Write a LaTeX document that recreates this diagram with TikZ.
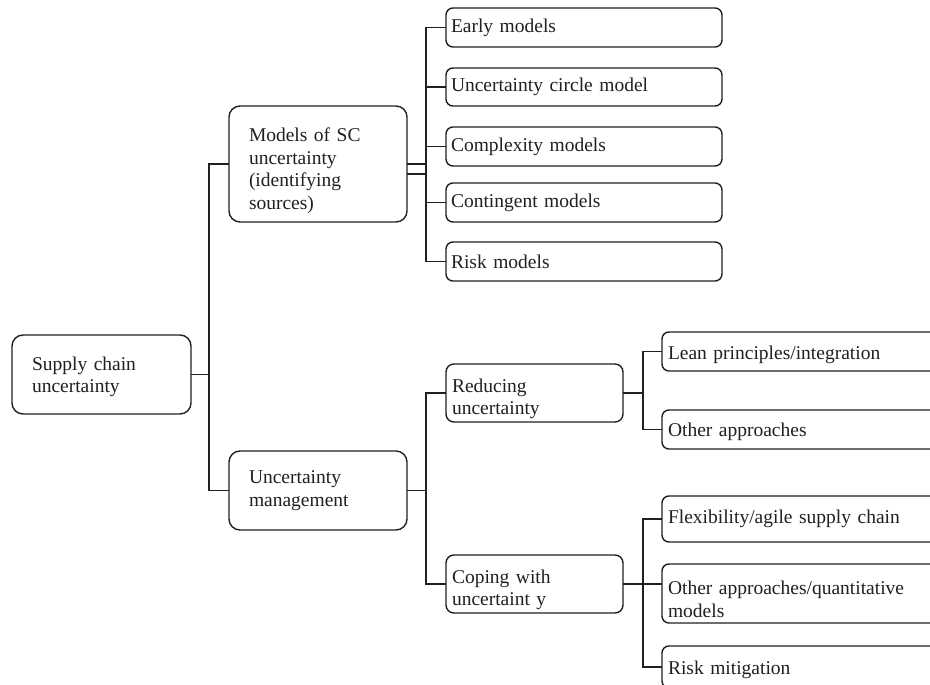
\documentclass[tikz,border=0pt]{standalone}
\usepackage{fontspec}
\setmainfont{Liberation Serif}
\definecolor{ink}{HTML}{231F20}
% invisible strut that makes the first line taller, pushing the text block down
\newcommand{\dropby}[1]{\rule{0pt}{\dimexpr13.3pt+#1*2\relax}}
\begin{document}
\begin{tikzpicture}[x=1pt,y=-1pt,
  every node/.style={font=\fontsize{19.5}{22.7}\selectfont, text=ink},
  box/.style={draw=ink, line width=1.4pt, anchor=north west, align=left,
    inner ysep=0pt, outer sep=0pt},
  bigbox/.style={box, rounded corners=11pt, inner xsep=20pt,
    text width=#1-40pt, minimum width=#1},
  midbox/.style={box, rounded corners=8pt, inner xsep=6pt,
    text width=177pt-12pt, minimum width=177pt},
  leafbox/.style={box, rounded corners=7pt, inner xsep=5pt,
    text width=#1-10pt, minimum width=#1},
  conn/.style={draw=ink, line width=1.4pt}]
\useasboundingbox (0,0) rectangle (930,685);
\fill[white] (0,0) rectangle (930,685);
\clip (0,0) rectangle (930,685);

% root and first level
\node[bigbox=179pt, minimum height=79pt] (sc) at (12,335) {\dropby{2.5pt}Supply chain\\uncertainty};
\node[bigbox=178pt, minimum height=116pt] (models) at (229,106)
  {\dropby{7pt}Models of SC\\uncertainty\\(identifying\\sources)};
\node[bigbox=178pt, minimum height=79pt, inner xsep=19pt] (um) at (229,451)
  {Uncertainty\\management};

% models of uncertainty
\node[leafbox=276pt, minimum height=39pt] (early) at (446,8) {Early models};
\node[leafbox=276pt, minimum height=38pt] (circle) at (446,68) {Uncertainty circle model};
\node[leafbox=276pt, minimum height=39pt] (complex) at (446,127) {Complexity models};
\node[leafbox=276pt, minimum height=39pt] (conting) at (446,183) {Contingent models};
\node[leafbox=276pt, minimum height=39pt] (riskm) at (446,242) {Risk models};

% uncertainty management
\node[midbox, minimum height=58pt] (reduce) at (446,364) {\dropby{6pt}Reducing\\uncertainty};
\node[midbox, minimum height=58pt] (cope) at (446,555) {\dropby{6pt}Coping with\\uncertaint y};

\node[leafbox=290pt, minimum height=39pt, inner xsep=6pt] (lean) at (662,332) {\dropby{3pt}Lean principles/integration};
\node[leafbox=290pt, minimum height=39pt, inner xsep=6pt] (other) at (662,410) {\dropby{2.5pt}Other approaches};
\node[leafbox=290pt, minimum height=46pt, inner xsep=6pt] (flex) at (662,496) {Flexibility/agile supply chain};
\node[leafbox=290pt, minimum height=59pt, inner xsep=6pt] (quant) at (662,564) {\dropby{6pt}Other approaches/quantitative\\models};
\node[leafbox=290pt, minimum height=42pt, inner xsep=6pt] (mitig) at (662,646) {\dropby{3pt}Risk mitigation};

% connectors
\coordinate (bus1) at ([xshift=18pt]sc.east);
\draw[conn] (sc.east) -- (bus1) |- (models.west);
\draw[conn] (bus1) |- (um.west);

\coordinate (bus2) at ([xshift=19pt]models.east);
\draw[conn] (models.east) -- (bus2);
\draw[conn] ([yshift=-10pt]models.east) -- ([yshift=-10pt]bus2);
\foreach \c in {early,circle,complex,conting,riskm}
  \draw[conn] (bus2) |- (\c.west);

\coordinate (bus3) at ([xshift=19pt]um.east);
\draw[conn] (um.east) -- (bus3) |- (reduce.west);
\draw[conn] (bus3) |- (cope.west);

\coordinate (bus4) at ([xshift=20pt]reduce.east);
\draw[conn] (reduce.east) -- (bus4) |- (lean.west);
\draw[conn] (bus4) |- (other.west);

\coordinate (bus5) at ([xshift=20pt]cope.east);
\draw[conn] (cope.east) -- (quant.west |- cope.east);
\draw[conn] (bus5) |- (flex.west);
\draw[conn] (bus5) |- (mitig.west);
\end{tikzpicture}
\end{document}
